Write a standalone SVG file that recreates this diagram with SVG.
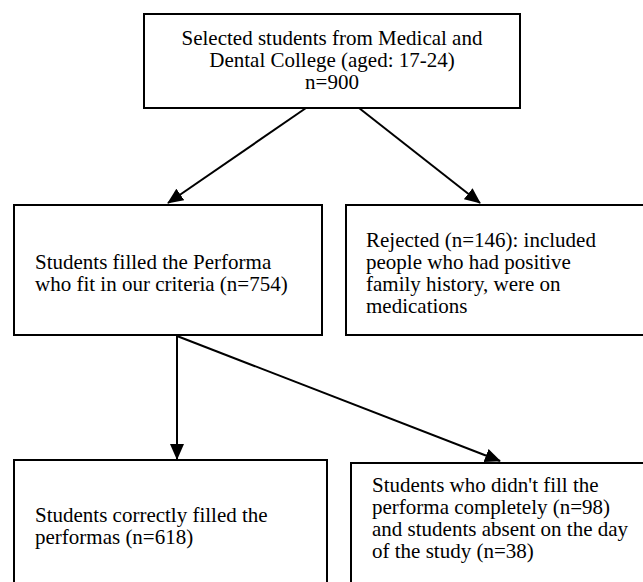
<svg xmlns="http://www.w3.org/2000/svg" width="643" height="582" viewBox="0 0 643 582">
<style>
.box{fill:#fff;stroke:#000;stroke-width:2}
.t{font-family:"Liberation Serif","Times New Roman",serif;font-size:21px;fill:#000}
.c{text-anchor:middle}
.ln{stroke:#000;stroke-width:2;fill:none;marker-end:url(#ah)}
</style>
<defs>
<marker id="ah" markerUnits="userSpaceOnUse" markerWidth="16" markerHeight="14" viewBox="0 0 16 14" refX="15" refY="7" orient="auto">
<path d="M0,0 L16,7 L0,14 z" fill="#000"/>
</marker>
</defs>
<g id="connectors">
<line class="ln" x1="306" y1="108" x2="168" y2="203"/>
<line class="ln" x1="359" y1="108" x2="480" y2="203"/>
<line class="ln" x1="177" y1="336" x2="177" y2="459"/>
<line class="ln" x1="177" y1="336" x2="500" y2="461"/>
</g>
<g id="n_selected">
<rect class="box" x="144" y="14" width="376" height="94"/>
<text class="t c" x="332" y="45">Selected students from Medical and</text>
<text class="t c" x="332" y="67">Dental College (aged: 17-24)</text>
<text class="t c" x="332" y="89">n=900</text>
</g>
<g id="n_filled">
<rect class="box" x="14" y="205" width="308" height="130"/>
<text class="t" x="35" y="269">Students filled the Performa</text>
<text class="t" x="35" y="291">who fit in our criteria (n=754)</text>
</g>
<g id="n_rejected">
<rect class="box" x="346" y="205" width="310" height="130"/>
<text class="t" x="366" y="247">Rejected (n=146): included</text>
<text class="t" x="366" y="269">people who had positive</text>
<text class="t" x="366" y="291">family history, were on</text>
<text class="t" x="366" y="313">medications</text>
</g>
<g id="n_correct">
<rect class="box" x="14" y="460" width="313" height="140"/>
<text class="t" x="35" y="522">Students correctly filled the</text>
<text class="t" x="35" y="544">performas (n=618)</text>
</g>
<g id="n_incomplete">
<rect class="box" x="351" y="463" width="310" height="140"/>
<text class="t" x="372" y="492">Students who didn't fill the</text>
<text class="t" x="372" y="514">performa completely (n=98)</text>
<text class="t" x="372" y="536">and students absent on the day</text>
<text class="t" x="372" y="558">of the study (n=38)</text>
</g>
</svg>
